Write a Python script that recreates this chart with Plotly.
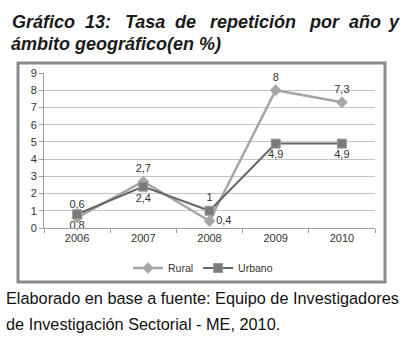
import plotly.graph_objects as go

years = ["2006", "2007", "2008", "2009", "2010"]
rural = [0.6, 2.7, 0.4, 8, 7.3]
urbano = [0.8, 2.4, 1, 4.9, 4.9]
y_ticks = [0, 1, 2, 3, 4, 5, 6, 7, 8, 9]
rural_pos = ["top center", "top center", "middle right", "top center", "top center"]
urbano_pos = ["bottom center", "bottom center", "top center", "bottom center", "bottom center"]

title_words = ["Gráfico", "13:", "Tasa", "de", "repetición", "por", "año", "y"]
title_word_x = [10, 83, 123, 173, 208, 307, 347, 386]
title_line2 = "ámbito geográfico(en %)"
footer1 = "Elaborado en base a fuente: Equipo de Investigadores"
footer2 = "de Investigación Sectorial - ME, 2010."

W, H = 408, 341
L, R, T, B = 44, 375, 73, 228


def px(x):
    return (x - L) / (R - L)


def py(y):
    return (B - y) / (B - T)


def fmt(v):
    return str(v).replace(".", ",")


FONT = "Liberation Sans, Arial, sans-serif"

fig = go.Figure()
fig.add_trace(go.Scatter(
    x=years, y=rural, name="Rural", mode="lines+markers+text",
    line=dict(color="#a6a6a6", width=2.5),
    marker=dict(symbol="diamond", size=9, color="#a6a6a6"),
    text=[fmt(v) for v in rural], textposition=rural_pos,
    textfont=dict(size=11, color="#333333", family=FONT),
    cliponaxis=False,
))
fig.add_trace(go.Scatter(
    x=years, y=urbano, name="Urbano", mode="lines+markers+text",
    line=dict(color="#666666", width=2),
    marker=dict(symbol="square", size=9, color="#7a7a7a",
                line=dict(color="#9a9a9a", width=1)),
    text=[fmt(v) for v in urbano], textposition=urbano_pos,
    textfont=dict(size=11, color="#333333", family=FONT),
    cliponaxis=False,
))

annotations = []
for w, x in zip(title_words, title_word_x):
    annotations.append(dict(
        text="<b><i>" + w + "</i></b>", x=px(x), y=py(22), xref="paper", yref="paper",
        xanchor="left", yanchor="middle", showarrow=False,
        font=dict(size=18, color="#1a1a1a", family=FONT)))
annotations.append(dict(
    text="<b><i>" + title_line2 + "</i></b>", x=px(9), y=py(44), xref="paper", yref="paper",
    xanchor="left", yanchor="middle", showarrow=False,
    font=dict(size=18, color="#1a1a1a", family=FONT)))
annotations.append(dict(
    text=footer1, x=px(4), y=py(298), xref="paper", yref="paper",
    xanchor="left", yanchor="middle", showarrow=False,
    font=dict(size=16.3, color="#111111", family=FONT)))
annotations.append(dict(
    text=footer2, x=px(4), y=py(324), xref="paper", yref="paper",
    xanchor="left", yanchor="middle", showarrow=False,
    font=dict(size=16.3, color="#111111", family=FONT)))

shapes = [dict(type="rect", xref="paper", yref="paper",
               x0=px(18), x1=px(385), y0=py(63), y1=py(282),
               line=dict(color="#8a8a8a", width=3), fillcolor="rgba(0,0,0,0)", layer="below")]

fig.update_layout(
    width=W, height=H,
    margin=dict(l=L, r=W - R, t=T, b=H - B, pad=0, autoexpand=False),
    paper_bgcolor="white", plot_bgcolor="white",
    font=dict(family=FONT, size=11, color="#333333"),
    showlegend=True,
    legend=dict(orientation="h", x=px(203), y=py(268), xanchor="center", yanchor="middle",
                font=dict(size=10.5, color="#333333"), itemwidth=30,
                bgcolor="rgba(0,0,0,0)", tracegroupgap=0),
    xaxis=dict(type="category", range=[-0.5, 4.5], showgrid=False,
               showline=True, linecolor="#a0a0a0", linewidth=1,
               ticks="outside", tickson="boundaries", ticklen=4, tickcolor="#a0a0a0",
               tickfont=dict(size=11, color="#333333"), fixedrange=True),
    yaxis=dict(range=[0, 9], tickvals=y_ticks, showgrid=True, gridcolor="#c4c4c4", gridwidth=1,
               showline=True, linecolor="#a0a0a0", linewidth=1,
               ticks="outside", ticklen=4, tickcolor="#a0a0a0", zeroline=False,
               tickfont=dict(size=11, color="#333333"), fixedrange=True),
    annotations=annotations,
    shapes=shapes,
)

fig.write_html("out.html", config={"displayModeBar": False},
               post_script="document.body.style.margin='0';document.body.style.padding='0';")
